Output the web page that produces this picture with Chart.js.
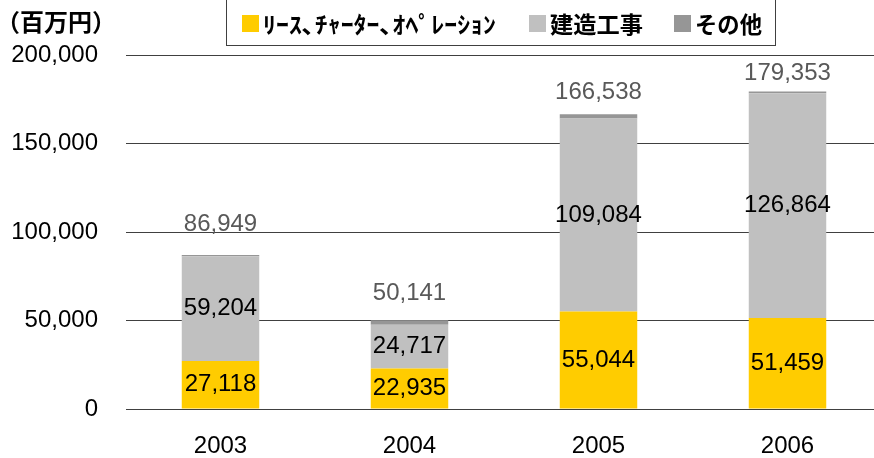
<!DOCTYPE html>
<html>
<head>
<meta charset="utf-8">
<script src="https://cdn.jsdelivr.net/npm/chart.js@4/dist/chart.umd.min.js"></script>
<style>
  html, body { margin: 0; padding: 0; background: #fff; }
  #wrap { width: 874px; height: 458px; overflow: hidden; position: relative; }
  canvas { display: block; }
</style>
</head>
<body>
<div id="wrap"><canvas id="chart" width="884" height="458"></canvas></div>
<script>
const years = ['2003', '2004', '2005', '2006'];
const seriesNames = ['ﾘｰｽ､ﾁｬｰﾀｰ､ｵﾍﾟﾚｰｼｮﾝ', '建造工事', 'その他'];
const leaseValues = [27118, 22935, 55044, 51459];
const constructionValues = [59204, 24717, 109084, 126864];
const otherValues = [627, 2489, 2410, 1030];
const yTicks = [0, 50000, 100000, 150000, 200000];
const unitLabel = '（百万円）';

const colors = ['#FFCC00', '#C0C0C0', '#969696'];
const numFont = '24px "Liberation Sans", Arial, sans-serif';
const jpFont = 'bold 23px "Noto Sans CJK JP", sans-serif';

const totals = years.map((_, i) => leaseValues[i] + constructionValues[i] + otherValues[i]);
const fmt = v => v.toLocaleString('en-US');

// labels inside the segments and totals above the bars
const labelPlugin = {
    id: 'segmentLabels',
    afterDatasetsDraw(chart) {
        const ctx = chart.ctx;
        ctx.save();
        ctx.font = numFont;
        ctx.textAlign = 'center';
        ctx.textBaseline = 'middle';
        [0, 1].forEach(di => {
            const meta = chart.getDatasetMeta(di);
            meta.data.forEach((bar, i) => {
                ctx.fillStyle = '#000';
                ctx.fillText(fmt(chart.data.datasets[di].data[i]), bar.x, (bar.y + bar.base) / 2);
            });
        });
        // the total labels sit a little unevenly above the bars in the original
        const gap = [31, 27, 22, 18];
        const top = chart.getDatasetMeta(2);
        top.data.forEach((bar, i) => {
            ctx.fillStyle = '#595959';
            ctx.fillText(fmt(totals[i]), bar.x, bar.y - gap[i]);
        });
        ctx.restore();
    }
};

// legend box and unit label at the top
const legendPlugin = {
    id: 'topLegend',
    afterDraw(chart) {
        const ctx = chart.ctx;
        ctx.save();
        ctx.fillStyle = '#000';
        ctx.font = 'bold 24px "Noto Sans CJK JP", sans-serif';
        ctx.textBaseline = 'middle';
        ctx.textAlign = 'left';
        ctx.fillText(unitLabel, -4, 22);

        ctx.strokeStyle = '#404040';
        ctx.lineWidth = 1;
        ctx.strokeRect(226.5, -5, 549, 50.5);

        const squareX = [242, 529, 674];
        const textW = [233, 93, 67];
        ctx.font = jpFont;
        chart.data.datasets.forEach((ds, i) => {
            ctx.fillStyle = ds.backgroundColor;
            ctx.fillRect(squareX[i], 15, 17, 17);
            const w = ctx.measureText(ds.label).width;
            ctx.save();
            ctx.translate(squareX[i] + 21, 24);
            ctx.scale(textW[i] / w, 1);
            ctx.fillStyle = '#000';
            ctx.fillText(ds.label, 0, 0);
            ctx.restore();
        });
        ctx.restore();
    }
};

new Chart(document.getElementById('chart'), {
    type: 'bar',
    data: {
        labels: years,
        datasets: [
            { label: seriesNames[0], data: leaseValues, backgroundColor: colors[0] },
            { label: seriesNames[1], data: constructionValues, backgroundColor: colors[1] },
            { label: seriesNames[2], data: otherValues, backgroundColor: colors[2] }
        ]
    },
    options: {
        responsive: false,
        animation: false,
        events: [],
        layout: { padding: { top: 55, left: 0, right: 2, bottom: 0 } },
        datasets: { bar: { barPercentage: 0.41, categoryPercentage: 1 } },
        plugins: { legend: { display: false }, tooltip: { enabled: false } },
        scales: {
            x: {
                stacked: true,
                grid: { display: false },
                border: { display: false },
                ticks: { color: '#000', font: { family: '"Liberation Sans", Arial, sans-serif', size: 24 }, padding: 15 },
                afterFit(scale) { scale.height = 49; }
            },
            y: {
                stacked: true,
                min: 0,
                max: 200000,
                afterBuildTicks(scale) { scale.ticks = yTicks.map(v => ({ value: v })); },
                grid: { color: '#404040', lineWidth: 1, drawTicks: false },
                border: { display: false },
                ticks: {
                    color: '#000',
                    font: { family: '"Liberation Sans", Arial, sans-serif', size: 24 },
                    padding: 28,
                    callback: v => fmt(v)
                },
                afterFit(scale) { scale.width = 126; }
            }
        }
    },
    plugins: [labelPlugin, legendPlugin]
});
</script>
</body>
</html>
